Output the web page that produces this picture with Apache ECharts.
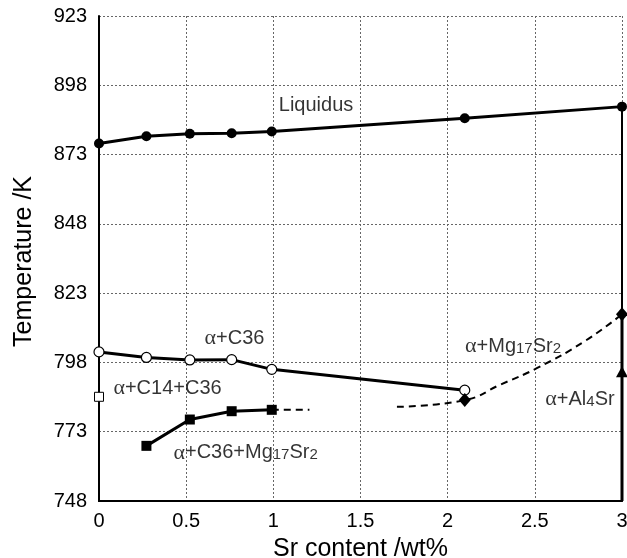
<!DOCTYPE html>
<html>
<head>
<meta charset="utf-8">
<script src="https://cdn.jsdelivr.net/npm/echarts@6/dist/echarts.min.js"></script>
<style>
  html, body { margin: 0; padding: 0; background: #fff; }
  #chart { width: 627px; height: 558px; }
</style>
</head>
<body>
<div id="chart"></div>
<script>
// Temperature axis ticks (K) and Sr content axis ticks (wt%)
const tempTicks = [748, 773, 798, 823, 848, 873, 898, 923];
const srTicks = [0, 0.5, 1, 1.5, 2, 2.5, 3];

// Liquidus temperatures
const liquidusSr = [0, 0.272, 0.521, 0.761, 0.991, 2.098, 3.0];
const liquidusT = [877.0, 879.6, 880.5, 880.7, 881.3, 886.1, 890.3];

// alpha + C36 boundary (open circles)
const c36Sr = [0, 0.272, 0.521, 0.761, 0.991, 2.098];
const c36T = [801.8, 799.8, 798.9, 799.0, 795.5, 788.0];

// alpha + C14 + C36 (open square)
const c14Sr = [0];
const c14T = [785.6];

// alpha + C36 + Mg17Sr2 boundary (filled squares) and its dashed extension
const mgSr = [0.272, 0.521, 0.761, 0.991];
const mgT = [767.9, 777.4, 780.4, 780.9];
const mgExtSr = [0.991, 1.207];
const mgExtT = [780.9, 780.9];

// alpha + Mg17Sr2 / alpha + Al4Sr boundary (diamonds) and dashed trend
const al4Sr = [2.098, 3.0];
const al4T = [784.4, 815.4];
const trendSr = [1.709, 2.098, 2.303, 2.514, 2.782, 3.0];
const trendT = [782.0, 784.4, 790.0, 796.0, 805.5, 815.4];

// Solvus point at 3 wt% (triangle)
const triSr = [3.0];
const triT = [794.6];

// Phase-field annotations
const annSr = [1.245, 0.777, 0.393, 0.841, 2.375, 2.759];
const annT = [890.6, 806.8, 788.6, 765.4, 803.9, 784.7];
const annText = [
  '{t|Liquidus}',
  '{g|α}{t|+C36}',
  '{g|α}{t|+C14+C36}',
  '{g|α}{t|+C36+Mg}{s|17}{t|Sr}{s|2}',
  '{g|α}{t|+Mg}{s|17}{t|Sr}{s|2}',
  '{g|α}{t|+Al}{s|4}{t|Sr}'
];

// The temperature axis starts at 748 K; values are plotted relative to it
const T0 = tempTicks[0];
const pts = (xs, ts) => xs.map((x, i) => [x, ts[i] - T0]);

const FONT = 'Liberation Sans, Arial, sans-serif';
const gridStyle = { type: [2, 2], color: '#666', width: 1 };

const chart = echarts.init(document.getElementById('chart'), null, { renderer: 'canvas' });

const lineBase = { type: 'line', animation: false, silent: true, z: 3 };

chart.setOption({
  backgroundColor: '#fff',
  animation: false,
  grid: { left: 99, right: 5, top: 16, bottom: 57, containLabel: false, outerBoundsMode: 'none' },
  graphic: [{
    type: 'text', left: 12, top: 176, rotation: Math.PI / 2, silent: true,
    style: { text: 'Temperature /K', fontFamily: FONT, fontSize: 25, fill: '#000' }
  }],
  xAxis: [{
    type: 'value',
    min: srTicks[0], max: srTicks[srTicks.length - 1], interval: 0.5,
    name: 'Sr content /wt%',
    nameLocation: 'middle', nameGap: 36,
    nameTextStyle: { fontFamily: FONT, fontSize: 25, color: '#000' },
    axisLine: { show: true, onZero: false, lineStyle: { color: '#000', width: 2 } },
    axisTick: { show: false },
    axisLabel: { margin: 10, fontFamily: FONT, fontSize: 20, color: '#000',
      formatter: v => String(v) },
    splitLine: { show: true, lineStyle: gridStyle }
  }, {
    type: 'value', position: 'top',
    min: srTicks[0], max: srTicks[srTicks.length - 1], interval: 0.5,
    axisLine: { show: true, lineStyle: { color: '#000', width: 2 } },
    axisTick: { show: false }, axisLabel: { show: false }, splitLine: { show: false }
  }],
  yAxis: {
    type: 'value',
    min: 0, max: tempTicks[tempTicks.length - 1] - T0, interval: 25,
    axisLine: { show: true, onZero: false, lineStyle: { color: '#000', width: 2 } },
    axisTick: { show: false },
    axisLabel: { margin: 12, fontFamily: FONT, fontSize: 20, color: '#000',
      formatter: v => String(v + T0) },
    splitLine: { show: true, lineStyle: gridStyle }
  },
  series: [
    // Phase boundary along 3 wt% Sr: liquidus down to the diamond, then to the base
    Object.assign({}, lineBase, {
      data: [[al4Sr[1], liquidusT[liquidusT.length - 1] - T0], [al4Sr[1], al4T[1] - T0]],
      symbol: 'none', lineStyle: { color: '#000', width: 2 }, z: 2
    }),
    Object.assign({}, lineBase, {
      data: [[al4Sr[1], al4T[1] - T0], [al4Sr[1], 0]],
      symbol: 'none', lineStyle: { color: '#000', width: 3 }, z: 2
    }),
    Object.assign({}, lineBase, {
      name: 'Liquidus', data: pts(liquidusSr, liquidusT),
      symbol: 'circle', symbolSize: 10,
      itemStyle: { color: '#000' }, lineStyle: { color: '#000', width: 3 }
    }),
    Object.assign({}, lineBase, {
      name: 'α+C36', data: pts(c36Sr, c36T),
      symbol: 'circle', symbolSize: 10,
      itemStyle: { color: '#fff', borderColor: '#000', borderWidth: 1.2 },
      lineStyle: { color: '#000', width: 3 }
    }),
    Object.assign({}, lineBase, {
      name: 'α+C14+C36', data: pts(c14Sr, c14T),
      symbol: 'rect', symbolSize: 9,
      itemStyle: { color: '#fff', borderColor: '#000', borderWidth: 1 },
      lineStyle: { width: 0 }
    }),
    Object.assign({}, lineBase, {
      data: pts(mgExtSr, mgExtT), symbol: 'none',
      lineStyle: { color: '#000', width: 2, type: [7, 5] }
    }),
    Object.assign({}, lineBase, {
      name: 'α+C36+Mg17Sr2', data: pts(mgSr, mgT),
      symbol: 'rect', symbolSize: 10,
      itemStyle: { color: '#000' }, lineStyle: { color: '#000', width: 3 }
    }),
    Object.assign({}, lineBase, {
      data: pts(trendSr, trendT), symbol: 'none', smooth: 0.5,
      lineStyle: { color: '#000', width: 2, type: [7, 5] }
    }),
    Object.assign({}, lineBase, {
      type: 'scatter', name: 'α+Mg17Sr2', data: pts(al4Sr, al4T),
      symbol: 'diamond', symbolSize: [12, 14], itemStyle: { color: '#000', opacity: 1 }, z: 4
    }),
    Object.assign({}, lineBase, {
      type: 'scatter', name: 'α+Al4Sr', data: pts(triSr, triT),
      symbol: 'triangle', symbolSize: [12, 11], itemStyle: { color: '#000', opacity: 1 }, z: 4
    }),
    {
      type: 'scatter', silent: true, animation: false, z: 5,
      symbolSize: 0,
      data: annSr.map((x, i) => ({ value: [x, annT[i] - T0], text: annText[i] })),
      label: {
        show: true, position: 'inside',
        formatter: p => p.data.text,
        textBorderWidth: 0,
        rich: {
          t: { fontFamily: FONT, fontSize: 20, lineHeight: 24, color: '#000', textBorderWidth: 0 },
          g: { fontFamily: 'Liberation Serif, serif', fontSize: 22, lineHeight: 24, color: '#000', textBorderWidth: 0 },
          s: { fontFamily: FONT, fontSize: 15, lineHeight: 24, color: '#000', textBorderWidth: 0, padding: [5, 0, 0, 0] }
        }
      }
    }
  ]
});
</script>
</body>
</html>
